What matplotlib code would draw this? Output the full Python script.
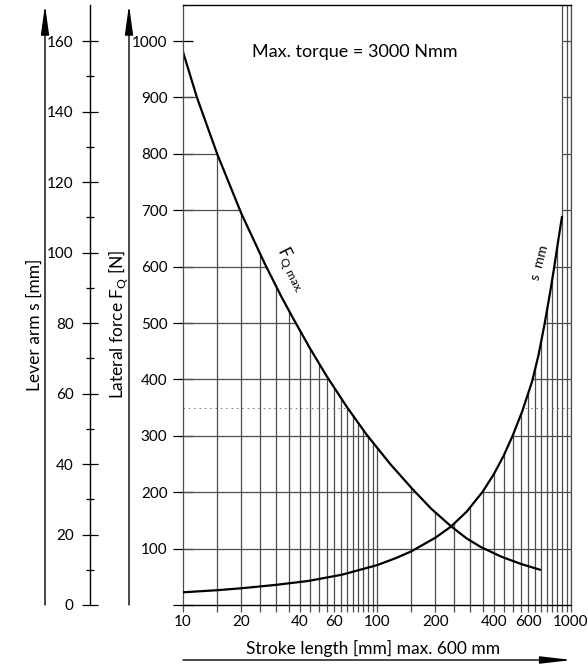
import matplotlib.pyplot as plt
from matplotlib.patches import Polygon
from matplotlib.ticker import NullFormatter

plt.rcParams['font.family'] = ['Lato', 'DejaVu Sans']

# stroke length [mm] -> max. lateral force F_Q [N]
stroke_f = [10, 11.8, 15, 20, 26.5, 32, 37, 45, 55, 70, 88, 117, 152, 190, 240, 290, 342, 435, 550, 700]
force_q = [981, 900, 800, 694, 604, 548, 508, 456, 406, 351, 303, 250, 206, 171, 140, 118, 103, 86, 73, 62]

# stroke length [mm] -> lever arm s [mm]
stroke_s = [10, 15, 20, 30, 44, 66, 100, 125, 150, 200, 240, 290, 350, 400, 450, 500,
            560, 630, 680, 730, 780, 820, 860, 900]
lever_s = [3.6, 4.2, 4.75, 5.7, 6.8, 8.6, 11.3, 13.3, 15.2, 19.1, 22.2, 26.5, 32.1, 37.1, 42.4, 48.0,
           54.9, 63.4, 70.9, 79.6, 88.6, 96.0, 103.5, 110.4]

x_grid = list(range(15, 100, 5)) + list(range(100, 1001, 50))
x_labels = [10, 20, 40, 60, 100, 200, 400, 600, 1000]
force_ticks = list(range(0, 1001, 100))
lever_ticks = list(range(0, 161, 20))
lever_minor = list(range(10, 160, 20))

F_TOP = 1064
S_PER_N = 0.16      # 160 mm on the lever axis sits level with 1000 N
X_CROSS = 240       # where the two curves meet
GRID = '0.3'

W, H = 588, 664
fig = plt.figure(figsize=(W / 100, H / 100), dpi=100)
ax = fig.add_axes([183 / W, 59 / H, 388 / W, 600 / H])
ax.set_xscale('log')
ax.set_xlim(10, 1000)
ax.set_ylim(0, F_TOP)

# grid only lives under the two curves
verts = [(10, 0)]
verts += [(x, f) for x, f in zip(stroke_f, force_q) if x <= X_CROSS]
verts += [(x, s / S_PER_N) for x, s in zip(stroke_s, lever_s) if x > X_CROSS]
verts += [(stroke_s[-1], F_TOP), (1000, F_TOP), (1000, 0)]
clip = Polygon(verts, closed=True, transform=ax.transData)

for xv in x_grid:
    ln = ax.axvline(xv, color=GRID, lw=0.9)
    if xv < stroke_s[-1]:
        ln.set_clip_path(clip)
for yv in force_ticks[1:]:
    ln = ax.axhline(yv, color=GRID, lw=0.9)
    ln.set_clip_path(clip)
ln = ax.axhline(350, color='0.45', lw=0.7, ls=(0, (1.5, 4)))
ln.set_clip_path(clip)

ax.plot(stroke_f, force_q, color='k', lw=1.6, solid_capstyle='butt')

ax_s = ax.twinx()
ax_s.set_ylim(0, F_TOP * S_PER_N)
ax_s.plot(stroke_s, lever_s, color='k', lw=1.6, solid_capstyle='butt')
ax_s.axis('off')

ax.set_xticks(x_labels)
ax.set_xticklabels([str(v) for v in x_labels])
ax.set_xticks([v for v in x_grid if v not in x_labels], minor=True)
ax.xaxis.set_minor_formatter(NullFormatter())
ax.tick_params(axis='x', which='both', direction='out', length=5, width=0.9,
               color=GRID, labelsize=11, pad=2)

ax.set_yticks(force_ticks)
ax.set_yticklabels(['' if v == 0 else str(v) for v in force_ticks])
ax.tick_params(axis='y', direction='inout', length=14.4, width=0.9,
               color='k', labelsize=11, pad=4)

for side in ['top', 'bottom']:
    ax.spines[side].set_color('k')
    ax.spines[side].set_linewidth(1)
for side in ['left', 'right']:
    ax.spines[side].set_color(GRID)
    ax.spines[side].set_linewidth(0.9)

# lever arm scale
ax_l = fig.add_axes([90 / W, 59 / H, 0.0001, 600 / H])
ax_l.set_ylim(0, F_TOP * S_PER_N)
ax_l.patch.set_visible(False)
for side in ['top', 'bottom', 'right']:
    ax_l.spines[side].set_visible(False)
ax_l.spines['left'].set_linewidth(1)
ax_l.set_xticks([])
ax_l.set_yticks(lever_ticks)
ax_l.set_yticks(lever_minor, minor=True)
ax_l.tick_params(axis='y', which='major', direction='inout', length=11.5, width=0.9,
                 labelsize=11, pad=6)
ax_l.tick_params(axis='y', which='minor', direction='inout', length=5.8, width=0.9)

# arrows
arrow = dict(arrowstyle='-|>,head_length=1.8,head_width=0.25', color='k', lw=1,
             shrinkA=0, shrinkB=0, mutation_scale=10)
for xp in [45, 129]:
    ax.annotate('', xy=(xp, H - 5), xytext=(xp, H - 605), xycoords='figure pixels',
                textcoords='figure pixels', arrowprops=arrow)
ax.annotate('', xy=(572, H - 660), xytext=(183, H - 660), xycoords='figure pixels',
            textcoords='figure pixels',
            arrowprops=dict(arrow, arrowstyle='-|>,head_length=1.9,head_width=0.22'))

fig.text(35 / W, 1 - 325 / H, 'Lever arm s [mm]', rotation=90, ha='center', va='center', fontsize=12.5)
fig.text(118 / W, 1 - 324 / H, r'Lateral force F$_\mathregular{Q}$ [N]', rotation=90,
         ha='center', va='center', fontsize=12.5)
fig.text(355 / W, 1 - 52 / H, 'Max. torque = 3000 Nmm', ha='center', va='center', fontsize=13)
fig.text(373 / W, 1 - 648 / H, 'Stroke length [mm] max. 600 mm', ha='center', va='center', fontsize=12.5)

ax.text(28.5, 625, r'F$_\mathregular{Q\ max.}$', rotation=-63, rotation_mode='anchor',
        ha='left', va='bottom', fontsize=12)
ax.text(700, 573, 's  mm', rotation=75, rotation_mode='anchor',
        ha='left', va='bottom', fontsize=10)

fig.savefig('out.png', dpi=100)
